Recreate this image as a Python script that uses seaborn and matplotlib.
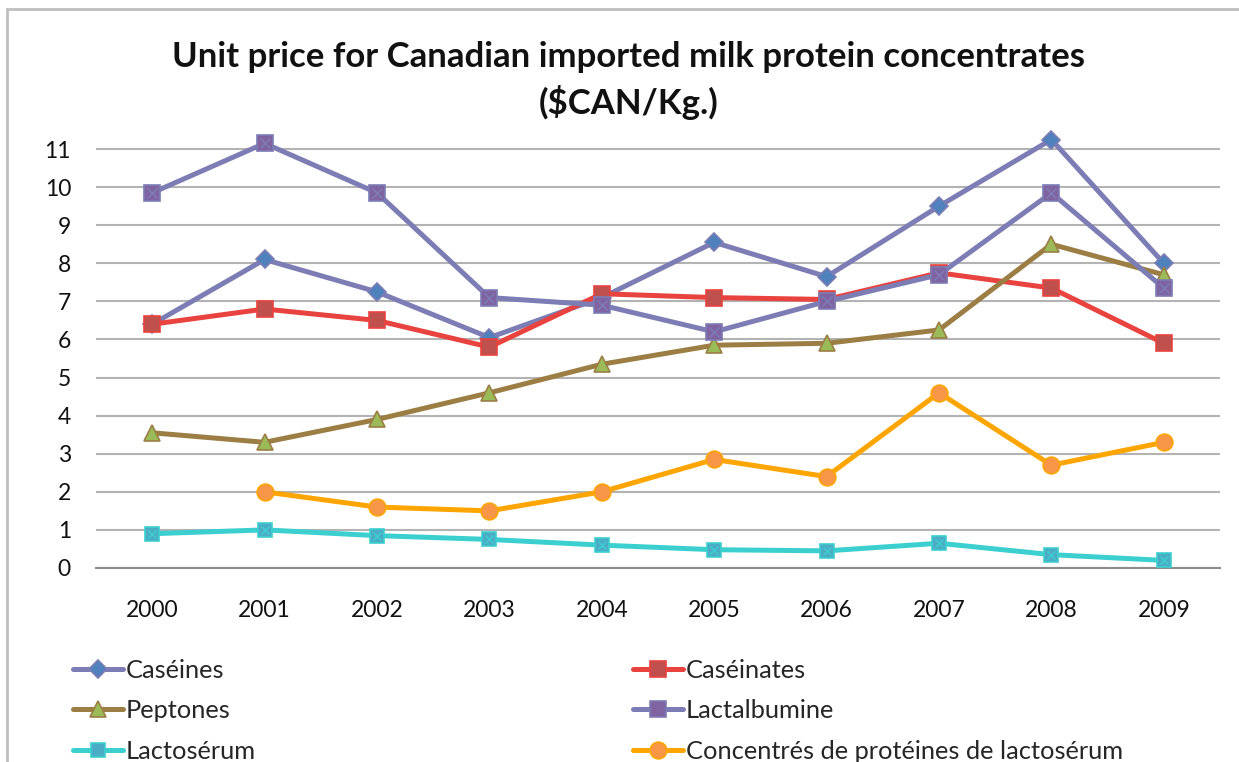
import matplotlib
matplotlib.use("Agg")
import matplotlib.pyplot as plt
from matplotlib.patches import Rectangle
import seaborn as sns
import pandas as pd
import numpy as np

years = ["2000", "2001", "2002", "2003", "2004", "2005", "2006", "2007", "2008", "2009"]

caseines = [6.4, 8.1, 7.25, 6.05, 7.1, 8.55, 7.65, 9.5, 11.25, 8.0]
caseinates = [6.4, 6.8, 6.5, 5.8, 7.2, 7.1, 7.05, 7.75, 7.35, 5.9]
peptones = [3.55, 3.3, 3.9, 4.6, 5.35, 5.85, 5.9, 6.25, 8.5, 7.7]
lactalbumine = [9.85, 11.15, 9.85, 7.1, 6.9, 6.2, 7.0, 7.7, 9.85, 7.35]
lactoserum = [0.9, 1.0, 0.85, 0.75, 0.6, 0.48, 0.45, 0.65, 0.35, 0.2]
concentres = [np.nan, 2.0, 1.6, 1.5, 2.0, 2.85, 2.4, 4.6, 2.7, 3.3]

series_names = ["Caséines", "Caséinates", "Peptones", "Lactalbumine",
                "Lactosérum", "Concentrés de protéines de lactosérum"]
series_values = [caseines, caseinates, peptones, lactalbumine, lactoserum, concentres]

# line colour, marker, marker face colour, marker size
styles = {
    "Caséines": ("#7B7DB4", "D", "#4F81BD", 9),
    "Caséinates": ("#E8433F", "s", "#C0504D", 11),
    "Peptones": ("#9C7E45", "^", "#9BBB59", 11),
    "Lactalbumine": ("#7D7DB5", "s", "#8064A2", 11),
    "Lactosérum": ("#3CCFCF", "s", "#4BACC6", 10),
    "Concentrés de protéines de lactosérum": ("#FFA500", "o", "#F79646", 12),
}

df = pd.concat(
    [pd.DataFrame({"year": years, "x": np.arange(len(years)), "price": vals, "product": name})
     for name, vals in zip(series_names, series_values)],
    ignore_index=True,
)

sns.set_theme(style="white")
plt.rcParams["font.family"] = ["Lato", "DejaVu Sans"]

fig = plt.figure(figsize=(12.39, 7.62), dpi=100)
ax = fig.add_axes([96 / 1239, 194 / 762, (1220 - 96) / 1239, (568 - 130) / 762])

for name in series_names:
    color, marker, face, ms = styles[name]
    sub = df[df["product"] == name].dropna()
    sns.lineplot(data=sub, x="x", y="price", ax=ax, color=color, linewidth=3.6,
                 marker=marker, markersize=ms, markerfacecolor=face,
                 markeredgecolor=color, markeredgewidth=1.2, label=name, zorder=3)
    if name in ("Lactalbumine", "Lactosérum"):
        ax.plot(sub["x"], sub["price"], linestyle="none", marker="x",
                markersize=ms * 0.6, markeredgecolor=color, markeredgewidth=1.0, zorder=4)

handles, labels = ax.get_legend_handles_labels()
ax.get_legend().remove()

ax.set_xlim(-0.5, len(years) - 0.5)
ax.set_ylim(0, 11.5)
ax.set_xticks(np.arange(len(years)))
ax.set_xticklabels(years)
ax.set_yticks(range(0, 12))
ax.set_xlabel("")
ax.set_ylabel("")
ax.grid(axis="y", color="#B3B3B3", linewidth=1.5)
ax.grid(axis="x", visible=False)
for s in ("top", "right", "left"):
    ax.spines[s].set_visible(False)
ax.spines["bottom"].set_color("#8C8C8C")
ax.spines["bottom"].set_linewidth(1.5)
ax.tick_params(axis="both", length=0, labelsize=16.5, colors="#111111")
ax.tick_params(axis="y", pad=18)
ax.tick_params(axis="x", pad=23)
ax.set_axisbelow(True)

fig.text(0.507, 1 - 57 / 762, "Unit price for Canadian imported milk protein concentrates",
         ha="center", va="center", fontsize=25, fontweight="bold", color="#111111")
fig.text(0.507, 1 - 103 / 762, "($CAN/Kg.)",
         ha="center", va="center", fontsize=25, fontweight="bold", color="#111111")

hmap = dict(zip(labels, handles))
left_col = ["Caséines", "Peptones", "Lactosérum"]
right_col = ["Caséinates", "Lactalbumine", "Concentrés de protéines de lactosérum"]
for col, xpos in ((left_col, 73 / 1239), (right_col, 633 / 1239)):
    fig.legend([hmap[n] for n in col], col, loc="upper left",
               bbox_to_anchor=(xpos, 1 - 659 / 762), frameon=False,
               fontsize=18.3, handlelength=1.95, handletextpad=0.12,
               labelspacing=0.68, borderpad=0, borderaxespad=0)

fig.add_artist(Rectangle((7 / 1239, -0.05), 1.2, 0.05 + 753 / 762,
                         transform=fig.transFigure, fill=False,
                         edgecolor="#BFBFBF", linewidth=2))

fig.savefig("out.png", dpi=100, facecolor="white")
